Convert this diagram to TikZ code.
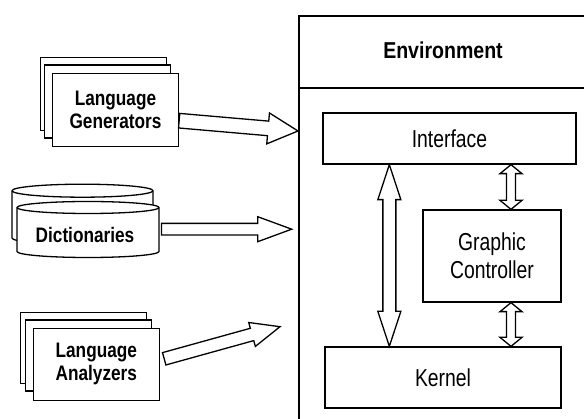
\documentclass[tikz,border=0pt]{standalone}
\usepackage{fontspec}
\usetikzlibrary{calc}
\newfontfamily\narrowA{Liberation Sans}[FakeStretch=0.79]
\newfontfamily\narrowB{Liberation Sans}[FakeStretch=0.82]
\newfontfamily\narrowC{Liberation Sans}[FakeStretch=0.85]
\newcommand\blkarrow[5]{% from, to, half shaft, half head, head length
  \draw[blk] let \p1=(#1), \p2=(#2), \n1={atan2(\y2-\y1,\x2-\x1)}, \n2={veclen(\x2-\x1,\y2-\y1)} in
   {[shift={(\p1)}, rotate=\n1]
    (0pt,#3pt) -- (\n2*1pt-#5pt,#3pt) -- (\n2*1pt-#5pt,#4pt) -- (\n2*1pt,0pt)
    -- (\n2*1pt-#5pt,-#4pt) -- (\n2*1pt-#5pt,-#3pt) -- (0pt,-#3pt) -- cycle};
}
\newcommand\dblarrow[5]{% from, to, half shaft, half head, head length
  \draw[blk] let \p1=(#1), \p2=(#2), \n1={atan2(\y2-\y1,\x2-\x1)}, \n2={veclen(\x2-\x1,\y2-\y1)} in
   {[shift={(\p1)}, rotate=\n1]
    (0pt,0pt) -- (#5pt,#4pt) -- (#5pt,#3pt) -- (\n2*1pt-#5pt,#3pt) -- (\n2*1pt-#5pt,#4pt)
    -- (\n2*1pt,0pt) -- (\n2*1pt-#5pt,-#4pt) -- (\n2*1pt-#5pt,-#3pt) -- (#5pt,-#3pt)
    -- (#5pt,-#4pt) -- cycle};
}
\begin{document}
\begin{tikzpicture}[x=1pt,y=-1pt,
  line width=1.3pt, line join=miter,
  box/.style={draw, fill=white, inner sep=0pt},
  leftlab/.style={font=\narrowB\bfseries\fontsize{21}{23}\selectfont, align=center},
  rightlab/.style={font=\narrowA\fontsize{24.5}{28}\selectfont, align=center},
  envlab/.style={font=\narrowC\bfseries\fontsize{23}{26}\selectfont},
  blk/.style={draw, fill=white}]
\clip (0,0) rectangle (584,419);
\fill[white] (0,0) rectangle (584,419);

% Environment
\draw (299,16) rectangle (620,450);
\draw (299,88) -- (620,88);
\node[envlab] (envtitle) at (443,50) {Environment};

\node[box, rightlab, minimum width=253pt, minimum height=51pt] (iface) at (449.5,138.5) {Interface};
\node[box, rightlab, minimum width=138pt, minimum height=92pt] (gc) at (492,256) {Graphic\\Controller};
\node[box, rightlab, minimum width=236pt, minimum height=61pt] (kernel) at (443,377.5) {Kernel};

\coordinate (bigtop) at ($(iface.south west)+(67,0)$);
\coordinate (bigbot) at (bigtop |- kernel.north);
\dblarrow{bigtop}{bigbot}{6.5}{11.5}{35}
\coordinate (smtop1) at ($(gc.north)+(19,0)$);
\coordinate (smbot1) at (smtop1 |- iface.south);
\dblarrow{smbot1}{smtop1}{4.5}{11}{9}
\coordinate (smtop2) at ($(gc.south)+(19,0)$);
\coordinate (smbot2) at (smtop2 |- kernel.north);
\dblarrow{smtop2}{smbot2}{4.5}{11}{9}

% Language Generators
\node[box, minimum width=126pt, minimum height=73pt] (gen3) at (103.3,93.7) {};
\node[box, minimum width=126pt, minimum height=73pt] (gen2) at (107.7,101.5) {};
\node[box, leftlab, minimum width=126pt, minimum height=73pt] (gen) at (115.5,110) {Language\\Generators};

% Dictionaries
\draw[fill=white] (12,190.7) -- (12,238) arc[start angle=180,end angle=360,x radius=70.5pt,y radius=6.5pt]
  -- (153,190.7) arc[start angle=0,end angle=180,x radius=70.5pt,y radius=6.5pt] -- cycle;
\draw (12,190.7) arc[start angle=180,end angle=360,x radius=70.5pt,y radius=6.5pt];
\draw[fill=white] (17,207.5) -- (17,251.5) arc[start angle=180,end angle=360,x radius=71pt,y radius=6pt]
  -- (159,207.5) arc[start angle=0,end angle=180,x radius=71pt,y radius=6pt] -- cycle;
\draw (17,207.5) arc[start angle=180,end angle=360,x radius=71pt,y radius=6pt];
\node[leftlab] (dict) at (85,235) {Dictionaries};
\coordinate (dictE) at (161.5,229.2);

% Language Analyzers
\node[box, minimum width=126pt, minimum height=71pt] (ana3) at (83.7,348) {};
\node[box, minimum width=126pt, minimum height=71pt] (ana2) at (88.3,355.5) {};
\node[box, leftlab, minimum width=126pt, minimum height=72pt] (ana) at (96.3,364.2) {Language\\Analyzers};

% input arrows
\coordinate (genT) at ($(gen.east)+(0,10.7)$);
\coordinate (tipG) at (298,131);
\blkarrow{genT}{tipG}{7.3}{15.5}{30}
\coordinate (tipD) at (291.7,229.2);
\blkarrow{dictE}{tipD}{5.8}{12.5}{34}
\coordinate (anaT) at (164.2,358.8);
\coordinate (tipA) at (280,326.7);
\blkarrow{anaT}{tipA}{6.4}{12.4}{29}
\end{tikzpicture}
\end{document}
